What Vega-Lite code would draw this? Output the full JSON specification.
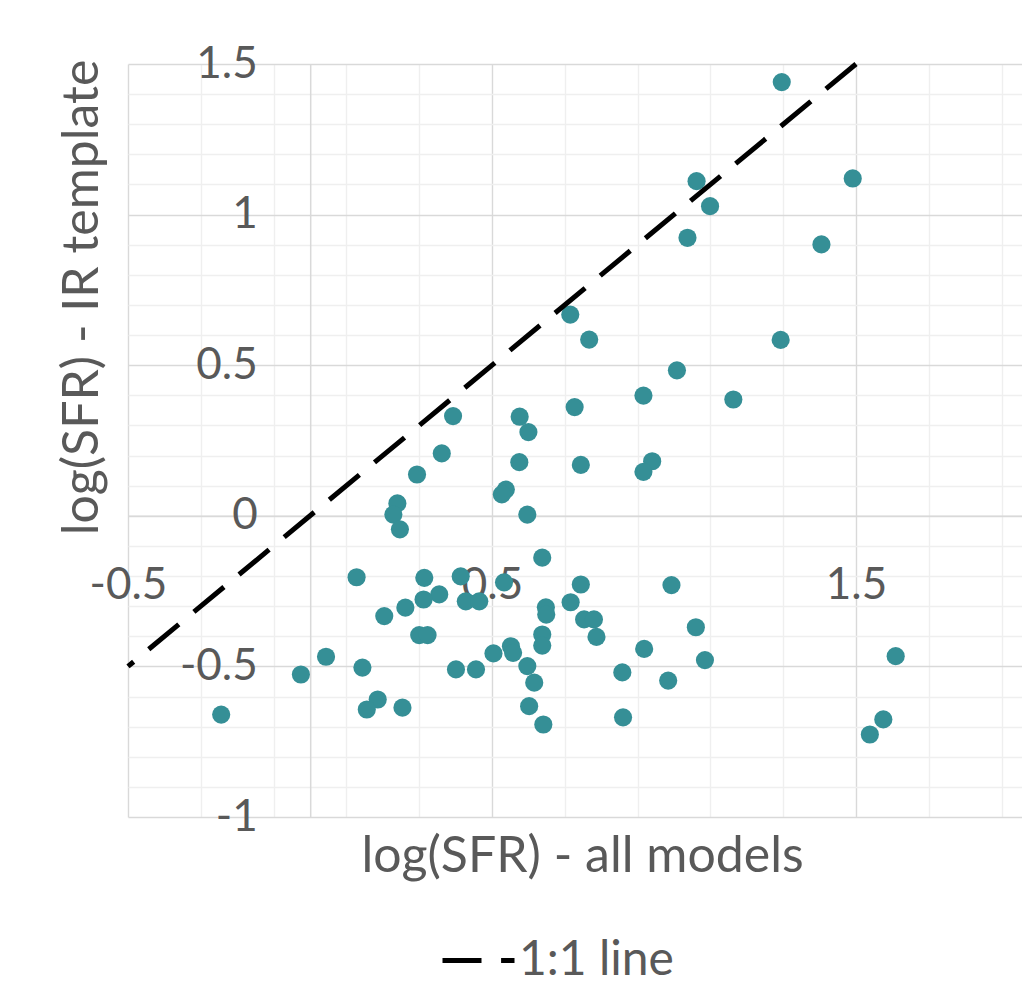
{
  "$schema": "https://vega.github.io/schema/vega-lite/v6.json",
  "width": 894,
  "height": 753,
  "autosize": {"type": "none"},
  "padding": {"left": 128, "top": 64, "right": 0, "bottom": 176},
  "background": "white",
  "config": {"view": {"stroke": null}, "font": "Lato"},
  "encoding": {
    "x": {
      "field": "x", "type": "quantitative",
      "scale": {"domain": [-0.5, 1.956], "nice": false, "zero": false},
      "axis": {
        "values": [-0.5, -0.3, -0.1, 0.1, 0.3, 0.5, 0.7, 0.9, 1.1, 1.3, 1.5, 1.7, 1.9],
        "orient": "bottom",
        "offset": -301.2,
        "domainColor": "#d9d9d9",
        "domainWidth": 1.5,
        "ticks": false,
        "grid": true,
        "gridColor": {"condition": {"test": "round(datum.value+0.5) == datum.value+0.5", "value": "#d9d9d9"}, "value": "#efefef"},
        "gridWidth": 1.4,
        "labelExpr": "round(datum.value+0.5) == datum.value+0.5 ? datum.value + '' : ''",
        "labelFontSize": 44,
        "labelColor": "#595959",
        "labelPadding": 48,
        "labelFlush": false,
        "labelOverlap": false,
        "title": "log(SFR) - all models",
        "titleFontSize": 50,
        "titleFontWeight": "normal",
        "titleColor": "#595959",
        "titleX": 454,
        "titleY": 356,
        "titleAlign": "center",
        "titleBaseline": "alphabetic"
      }
    },
    "y": {
      "field": "y", "type": "quantitative",
      "scale": {"domain": [-1, 1.5], "nice": false, "zero": false},
      "axis": {
        "values": [-1, -0.9, -0.8, -0.7, -0.6, -0.5, -0.4, -0.3, -0.2, -0.1, 0, 0.1, 0.2, 0.3, 0.4, 0.5, 0.6, 0.7, 0.8, 0.9, 1, 1.1, 1.2, 1.3, 1.4, 1.5],
        "orient": "left",
        "offset": -182.2,
        "domainColor": "#d9d9d9",
        "domainWidth": 1.5,
        "ticks": false,
        "grid": true,
        "gridColor": {"condition": {"test": "round(datum.value*2) == datum.value*2", "value": "#d9d9d9"}, "value": "#efefef"},
        "gridWidth": 1.4,
        "labelExpr": "round(datum.value*2) == datum.value*2 ? datum.value + '' : ''",
        "labelFontSize": 44,
        "labelColor": "#595959",
        "labelPadding": 53,
        "labelFlush": false,
        "labelOverlap": false,
        "title": "log(SFR) - IR template",
        "titleFontSize": 50,
        "titleFontWeight": "normal",
        "titleColor": "#595959",
        "titleAngle": -90,
        "titleX": -213,
        "titleY": 233,
        "titleAlign": "center",
        "titleBaseline": "alphabetic"
      }
    }
  },
  "layer": [
    {
      "data": {"values": [
        {"x": 1.296, "y": 1.440}, {"x": 1.062, "y": 1.111}, {"x": 1.099, "y": 1.028}, {"x": 1.491, "y": 1.120},
        {"x": 1.037, "y": 0.923}, {"x": 1.405, "y": 0.901}, {"x": 0.715, "y": 0.668}, {"x": 0.767, "y": 0.585},
        {"x": 1.293, "y": 0.584}, {"x": 1.008, "y": 0.483}, {"x": 0.916, "y": 0.399}, {"x": 1.163, "y": 0.386},
        {"x": 0.727, "y": 0.361}, {"x": 0.393, "y": 0.331}, {"x": 0.576, "y": 0.329}, {"x": 0.600, "y": 0.278},
        {"x": 0.362, "y": 0.207}, {"x": 0.575, "y": 0.178}, {"x": 0.744, "y": 0.169}, {"x": 0.940, "y": 0.181},
        {"x": 0.916, "y": 0.146}, {"x": 0.294, "y": 0.137}, {"x": 0.538, "y": 0.087}, {"x": 0.527, "y": 0.071},
        {"x": 0.240, "y": 0.041}, {"x": 0.229, "y": 0.004}, {"x": 0.597, "y": 0.004}, {"x": 0.247, "y": -0.045},
        {"x": 0.638, "y": -0.139}, {"x": 0.128, "y": -0.204}, {"x": 0.314, "y": -0.206}, {"x": 0.414, "y": -0.201},
        {"x": 0.533, "y": -0.221}, {"x": 0.744, "y": -0.228}, {"x": 0.993, "y": -0.230}, {"x": 0.355, "y": -0.261},
        {"x": 0.312, "y": -0.278}, {"x": 0.428, "y": -0.284}, {"x": 0.465, "y": -0.284}, {"x": 0.262, "y": -0.305},
        {"x": 0.716, "y": -0.287}, {"x": 0.648, "y": -0.304}, {"x": 0.649, "y": -0.328}, {"x": 0.204, "y": -0.333},
        {"x": 0.753, "y": -0.344}, {"x": 0.780, "y": -0.344}, {"x": 1.060, "y": -0.370}, {"x": 0.300, "y": -0.396},
        {"x": 0.323, "y": -0.396}, {"x": 0.787, "y": -0.402}, {"x": 0.638, "y": -0.394}, {"x": 0.638, "y": -0.431},
        {"x": 0.918, "y": -0.442}, {"x": 0.552, "y": -0.433}, {"x": 0.504, "y": -0.457}, {"x": 0.558, "y": -0.455},
        {"x": 0.044, "y": -0.468}, {"x": 1.609, "y": -0.466}, {"x": 1.085, "y": -0.479}, {"x": 0.597, "y": -0.499},
        {"x": 0.144, "y": -0.504}, {"x": 0.401, "y": -0.510}, {"x": 0.456, "y": -0.510}, {"x": 0.858, "y": -0.520},
        {"x": -0.025, "y": -0.527}, {"x": 0.616, "y": -0.554}, {"x": 0.984, "y": -0.547}, {"x": 0.186, "y": -0.610},
        {"x": 0.156, "y": -0.643}, {"x": 0.254, "y": -0.637}, {"x": 0.602, "y": -0.632}, {"x": -0.244, "y": -0.660},
        {"x": 0.860, "y": -0.669}, {"x": 0.641, "y": -0.693}, {"x": 1.575, "y": -0.676}, {"x": 1.538, "y": -0.726}
      ]},
      "mark": {"type": "circle", "size": 330, "color": "#358F96", "opacity": 1}
    },
    {
      "data": {"values": [
        {"x": 1.5, "y": 1.5, "series": "1:1 line"},
        {"x": -0.5, "y": -0.5, "series": "1:1 line"}
      ]},
      "mark": {"type": "line", "strokeWidth": 5, "strokeDash": [39, 19.6], "strokeCap": "butt"},
      "encoding": {
        "order": {"field": "x", "sort": "descending"},
        "color": {
          "field": "series", "type": "nominal",
          "scale": {"range": ["#000000"]},
          "legend": {
            "orient": "none",
            "legendX": 312,
            "legendY": 858,
            "title": null,
            "symbolType": "stroke",
            "symbolSize": 5184,
            "symbolStrokeWidth": 5,
            "symbolDash": [39, 19.6],
            "symbolStrokeColor": "#000000",
            "labelFontSize": 48,
            "labelColor": "#595959",
            "labelOffset": 2,
            "padding": 0
          }
        }
      }
    }
  ]
}
